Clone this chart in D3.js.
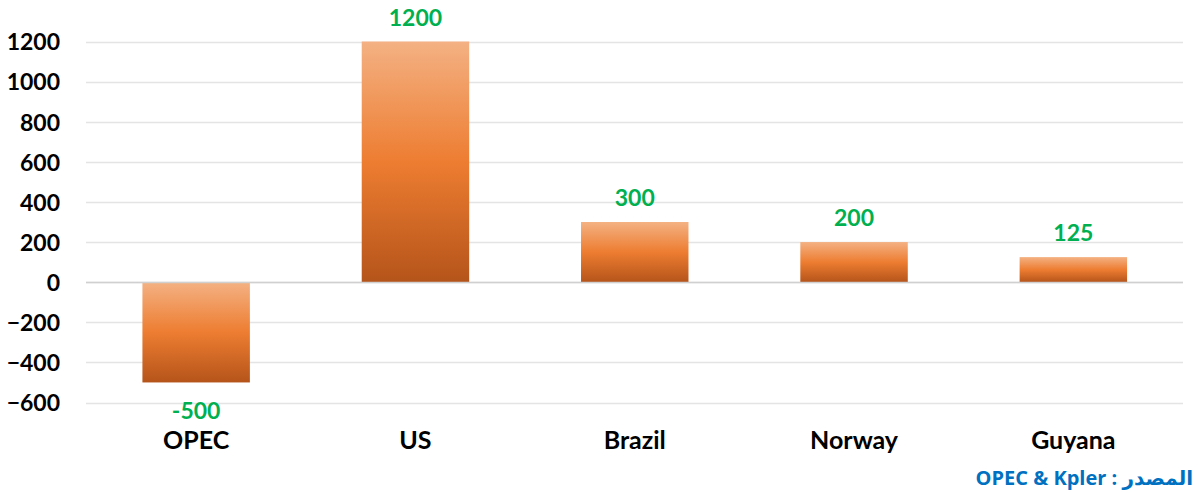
<!DOCTYPE html>
<html><head><meta charset="utf-8">
<script src="https://cdn.jsdelivr.net/npm/d3@7"></script>
<style>body{margin:0;background:#fff}svg{display:block}</style>
</head><body>
<svg id="c" width="1198" height="493"></svg>
<script>
const categories = ["OPEC", "US", "Brazil", "Norway", "Guyana"];
const values = [-500, 1200, 300, 200, 125];
const yTicks = [-600, -400, -200, 0, 200, 400, 600, 800, 1000, 1200];
const sourceText = "المصدر : OPEC & Kpler";

const svg = d3.select("#c");
const font = "Lato, 'Open Sans', sans-serif";
const x = d3.scaleBand().domain(categories).range([86.5, 1183]).paddingInner(0.51).paddingOuter(0.255);
const y = d3.scaleLinear().domain([-600, 1200]).range([402.5, 41.5]);

const defs = svg.append("defs");
const g = defs.append("linearGradient").attr("id", "grad").attr("x1", 0).attr("y1", 0).attr("x2", 0).attr("y2", 1);
g.append("stop").attr("offset", "0%").attr("stop-color", "#F4B183");
g.append("stop").attr("offset", "50%").attr("stop-color", "#ED7D31");
g.append("stop").attr("offset", "100%").attr("stop-color", "#B5541A");

// grid
svg.append("g").selectAll("line").data(yTicks).join("line")
  .attr("x1", 86).attr("x2", 1183)
  .attr("y1", d => Math.round(y(d)) + 0.5).attr("y2", d => Math.round(y(d)) + 0.5)
  .attr("stroke", "#e4e4e4").attr("stroke-width", 1.5);

// bars
svg.append("g").selectAll("rect").data(values).join("rect")
  .attr("x", (d, i) => x(categories[i]))
  .attr("width", x.bandwidth())
  .attr("y", d => y(Math.max(0, d)))
  .attr("height", d => Math.abs(y(d) - y(0)))
  .attr("fill", "url(#grad)");

// zero line
svg.append("line").attr("x1", 86).attr("x2", 1183)
  .attr("y1", Math.round(y(0)) + 0.5).attr("y2", Math.round(y(0)) + 0.5)
  .attr("stroke", "#d0d0d0").attr("stroke-width", 1.5);

// y axis
const yAxis = d3.axisLeft(y).tickValues(yTicks).tickSize(0).tickPadding(0).tickFormat(d3.format("d"));
const ya = svg.append("g").attr("transform", "translate(60,0)").call(yAxis);
ya.select(".domain").remove();
ya.selectAll("text").attr("font-family", font).attr("font-weight", "bold").attr("font-size", 23).attr("fill", "#000").attr("dy", "0.36em");

// x axis labels
const xAxis = d3.axisBottom(x).tickSize(0).tickPadding(0);
const xa = svg.append("g").attr("transform", "translate(0,440)").call(xAxis);
xa.select(".domain").remove();
xa.selectAll("text").attr("font-family", font).attr("font-weight", "bold").attr("font-size", 25).attr("fill", "#000").attr("dy", "0.36em");

// value labels
svg.append("g").selectAll("text").data(values).join("text")
  .attr("x", (d, i) => x(categories[i]) + x.bandwidth() / 2)
  .attr("y", d => d >= 0 ? y(d) - 24 : y(d) + 28)
  .attr("dy", "0.36em")
  .attr("text-anchor", "middle")
  .attr("font-family", font).attr("font-weight", "bold").attr("font-size", 23)
  .attr("fill", "#00B050")
  .text(d => d);

// source
svg.append("text").attr("x", 1193).attr("y", 478).attr("dy", "0.36em")
  .attr("direction", "rtl").attr("text-anchor", "start")
  .attr("font-family", "'Open Sans', 'DejaVu Sans', sans-serif").attr("font-weight", "bold").attr("font-size", 20)
  .attr("fill", "#0070C0")
  .text(sourceText);
</script>
</body></html>
